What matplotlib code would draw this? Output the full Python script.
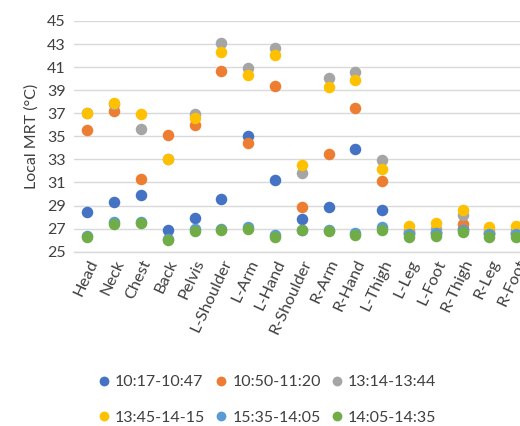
import matplotlib
matplotlib.use("Agg")
import matplotlib.pyplot as plt

plt.rcParams['font.family'] = ['Lato', 'DejaVu Sans']

categories = ['Head', 'Neck', 'Chest', 'Back', 'Pelvis', 'L-Shoulder', 'L-Arm', 'L-Hand',
              'R-Shoulder', 'R-Arm', 'R-Hand', 'L-Thigh', 'L-Leg', 'L-Foot', 'R-Thigh',
              'R-Leg', 'R-Foot']

series_names = ['10:17-10:47', '10:50-11:20', '13:14-13:44',
                '13:45-14-15', '15:35-14:05', '14:05-14:35']

s1017 = [28.4, 29.3, 29.9, 26.9, 27.95, 29.55, 35.0, 31.25, 27.8, 28.9, 33.9, 28.6, 26.6, 26.6, 27.0, 26.6, 26.6]
s1050 = [35.55, 37.2, 31.3, 35.1, 35.95, 40.7, 34.4, 39.35, 28.9, 33.5, 37.5, 31.1, 26.7, 26.7, 27.4, 26.6, 26.6]
s1314 = [37.0, 37.8, 35.6, 33.0, 36.9, 43.05, 40.9, 42.7, 31.85, 40.05, 40.6, 32.95, 26.9, 27.0, 28.2, 26.9, 26.9]
s1345 = [37.0, 37.85, 36.95, 33.05, 36.6, 42.3, 40.3, 42.05, 32.5, 39.25, 39.85, 32.15, 27.25, 27.5, 28.6, 27.15, 27.2]
s1535 = [26.4, 27.6, 27.55, 26.1, 26.95, 27.0, 27.1, 26.45, 26.9, 26.85, 26.65, 27.15, 26.5, 26.6, 26.9, 26.5, 26.5]
s1405 = [26.25, 27.4, 27.5, 26.0, 26.82, 26.85, 26.95, 26.25, 26.9, 26.82, 26.42, 26.9, 26.25, 26.33, 26.75, 26.3, 26.25]

series_values = [s1017, s1050, s1314, s1345, s1535, s1405]
colors = ['#4472C4', '#ED7D31', '#A5A5A5', '#FFC000', '#5B9BD5', '#70AD47']

yticks = list(range(25, 46, 2))

W, H = 520, 426
fig = plt.figure(figsize=(W / 100, H / 100), dpi=100)
ax = fig.add_axes([74 / W, (H - 251.7) / H, (529.6 - 74) / W, (251.7 - 21) / H])

x = list(range(len(categories)))
for name, vals, c in zip(series_names, series_values, colors):
    ax.plot(x, vals, linestyle='none', marker='o', markersize=8.3,
            color=c, markeredgewidth=0, label=name, clip_on=False, zorder=3)

ax.set_xlim(-0.5, len(categories) - 0.5)
ax.set_ylim(25, 45)
ax.set_yticks(yticks)
ax.set_yticklabels([str(t) for t in yticks], fontsize=11.5, color='#404040')
ax.set_xticks(x)
ax.set_xticklabels(categories, rotation=65, ha='right', va='top',
                   rotation_mode='anchor', fontsize=11.8, color='#404040')
ax.tick_params(length=0, pad=6)
ax.tick_params(axis='x', pad=4)
ax.grid(axis='y', color='#D9D9D9', linewidth=1.0)
ax.set_axisbelow(True)
for s in ['top', 'right', 'left']:
    ax.spines[s].set_visible(False)
ax.spines['bottom'].set_color('#D9D9D9')
ax.spines['bottom'].set_linewidth(1.0)

ax.set_ylabel('Local MRT (°C)', fontsize=11.5, color='#404040', labelpad=6)

handles, labels = ax.get_legend_handles_labels()
order = [0, 3, 1, 4, 2, 5]
leg = fig.legend([handles[i] for i in order], [labels[i] for i in order],
                 ncol=3, loc='center',
                 bbox_to_anchor=(267 / W, 1 - 400 / H), frameon=False,
                 fontsize=11.5, markerscale=0.85, handlelength=0.8,
                 handletextpad=0.3, columnspacing=0.6, labelspacing=1.35)
for t in leg.get_texts():
    t.set_color('#404040')

fig.savefig('out.png', dpi=100)
